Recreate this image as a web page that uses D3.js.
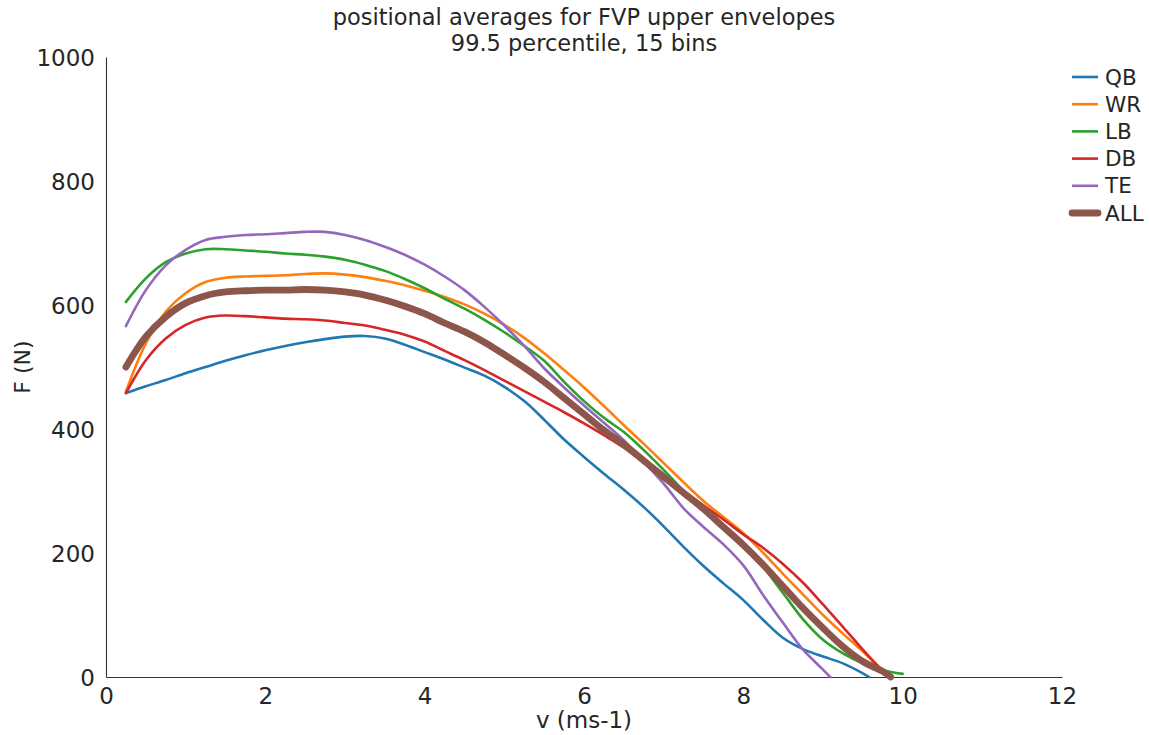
<!DOCTYPE html>
<html>
<head>
<meta charset="utf-8">
<script src="https://cdn.jsdelivr.net/npm/d3@7"></script>
<style>
  html, body { margin: 0; padding: 0; background: #ffffff; }
  svg { display: block; font-family: "DejaVu Sans", sans-serif; }
</style>
</head>
<body>
<svg id="chart" width="1149" height="735"></svg>
<script>
// Force–velocity upper envelopes, averaged per position.
// Each series: [velocity (m/s), force (N)] pairs.
const QB = [[0.25,458],[0.5,469],[0.75,479],[1.0,490],[1.25,500],[1.5,510],[1.75,519],[2.0,527],[2.25,534],[2.5,540],[2.75,545],[3.0,549],[3.25,550],[3.5,546],[3.75,536],[4.0,524],[4.25,512],[4.5,499],[4.75,486],[5.0,468],[5.25,445],[5.5,415],[5.75,383],[6.0,355],[6.25,328],[6.5,302],[6.75,274],[7.0,243],[7.25,210],[7.5,179],[7.75,151],[8.0,124],[8.25,92],[8.5,63],[8.75,45],[9.0,33],[9.25,22],[9.5,6],[9.58,0]];
const WR = [[0.25,460],[0.5,538],[0.75,589],[1.0,619],[1.25,637],[1.5,644],[1.75,646],[2.0,647],[2.25,648],[2.5,650],[2.75,651],[3.0,649],[3.25,645],[3.5,639],[3.75,632],[4.0,623],[4.25,613],[4.5,601],[4.75,586],[5.0,568],[5.25,547],[5.5,522],[5.75,495],[6.0,467],[6.25,437],[6.5,406],[6.75,376],[7.0,345],[7.25,314],[7.5,284],[7.75,258],[8.0,232],[8.25,200],[8.5,166],[8.75,133],[9.0,100],[9.25,70],[9.5,41],[9.75,11],[9.85,0]];
const LB = [[0.25,605],[0.5,643],[0.75,669],[1.0,683],[1.25,690],[1.5,690],[1.75,688],[2.0,686],[2.25,683],[2.5,681],[2.75,678],[3.0,673],[3.25,665],[3.5,655],[3.75,642],[4.0,627],[4.25,610],[4.5,594],[4.75,576],[5.0,556],[5.25,534],[5.5,510],[5.75,476],[6.0,445],[6.25,418],[6.5,395],[6.75,366],[7.0,334],[7.25,300],[7.5,268],[7.75,240],[8.0,210],[8.25,177],[8.5,135],[8.75,93],[9.0,60],[9.25,38],[9.5,22],[9.75,11],[10.0,5]];
const DB = [[0.25,458],[0.5,511],[0.75,546],[1.0,568],[1.25,580],[1.5,583],[1.75,582],[2.0,580],[2.25,578],[2.5,577],[2.75,575],[3.0,571],[3.25,567],[3.5,560],[3.75,552],[4.0,541],[4.25,526],[4.5,511],[4.75,495],[5.0,478],[5.25,461],[5.5,444],[5.75,427],[6.0,409],[6.25,390],[6.5,370],[6.75,346],[7.0,323],[7.25,300],[7.5,277],[7.75,254],[8.0,230],[8.25,208],[8.5,182],[8.75,152],[9.0,117],[9.25,81],[9.5,44],[9.75,9],[9.82,0]];
const TE = [[0.25,566],[0.5,624],[0.75,664],[1.0,689],[1.25,705],[1.5,710],[1.75,713],[2.0,714],[2.25,716],[2.5,718],[2.75,718],[3.0,713],[3.25,705],[3.5,694],[3.75,681],[4.0,665],[4.25,646],[4.5,624],[4.75,597],[5.0,567],[5.25,534],[5.5,498],[5.75,467],[6.0,438],[6.25,410],[6.5,382],[6.75,347],[7.0,312],[7.25,272],[7.5,242],[7.75,214],[8.0,180],[8.25,132],[8.5,87],[8.75,44],[9.0,12],[9.09,0]];
const ALL = [[0.25,500],[0.5,549],[0.75,581],[1.0,603],[1.25,615],[1.5,621],[1.75,623],[2.0,624],[2.25,624],[2.5,625],[2.75,624],[3.0,621],[3.25,616],[3.5,608],[3.75,598],[4.0,586],[4.25,571],[4.5,557],[4.75,540],[5.0,520],[5.25,499],[5.5,476],[5.75,450],[6.0,424],[6.25,398],[6.5,375],[6.75,349],[7.0,323],[7.25,297],[7.5,271],[7.75,242],[8.0,213],[8.25,181],[8.5,146],[8.75,111],[9.0,79],[9.25,49],[9.5,25],[9.75,9],[9.85,0]];

const seriesNames = ["QB", "WR", "LB", "DB", "TE", "ALL"];
const seriesData  = [QB, WR, LB, DB, TE, ALL];
const seriesColors = ["#1f77b4", "#ff7f0e", "#2ca02c", "#d62728", "#9467bd", "#8c564b"];

const xTicks = [0, 2, 4, 6, 8, 10, 12];
const yTicks = [0, 200, 400, 600, 800, 1000];

const titleLines = ["positional averages for FVP upper envelopes", "99.5 percentile, 15 bins"];
const xLabel = "v (ms-1)";
const yLabel = "F (N)";

// Layout
const svg = d3.select("#chart");
const plot = { left: 106, right: 1062, top: 57, bottom: 677 };
const textColor = "#262626";

const x = d3.scaleLinear().domain([0, 12]).range([plot.left, plot.right]);
const y = d3.scaleLinear().domain([0, 1000]).range([plot.bottom, plot.top]);

// Axes: spines only, no tick marks
const xAxis = svg.append("g")
  .attr("transform", `translate(0,${plot.bottom})`)
  .call(d3.axisBottom(x).tickValues(xTicks).tickFormat(d3.format("d")).tickSize(0).tickPadding(11));
const yAxis = svg.append("g")
  .attr("transform", `translate(${plot.left},0)`)
  .call(d3.axisLeft(y).tickValues(yTicks).tickFormat(d3.format("d")).tickSize(0).tickPadding(11));

[xAxis, yAxis].forEach(g => {
  g.select(".domain").attr("stroke", "#333333").attr("stroke-width", 1.1);
  g.selectAll("text")
    .attr("fill", textColor)
    .style("font-family", "'DejaVu Sans', sans-serif")
    .style("font-size", "23px");
});
xAxis.selectAll("text").attr("dy", "0.71em");
yAxis.selectAll("text").attr("dy", "0.35em");

// Series lines
const line = d3.line()
  .x(d => x(d[0]))
  .y(d => y(d[1]))
  .curve(d3.curveCatmullRom.alpha(0.5));

const lines = svg.append("g");
seriesData.forEach((data, i) => {
  const isAll = seriesNames[i] === "ALL";
  lines.append("path")
    .datum(data)
    .attr("fill", "none")
    .attr("stroke", seriesColors[i])
    .attr("stroke-width", isAll ? 6.8 : 2.6)
    .attr("stroke-linecap", "round")
    .attr("stroke-linejoin", "round")
    .attr("d", line);
});

// Title
svg.append("g").selectAll("text")
  .data(titleLines)
  .join("text")
  .attr("x", (plot.left + plot.right) / 2)
  .attr("y", (d, i) => 25 + i * 25.5)
  .attr("text-anchor", "middle")
  .attr("fill", textColor)
  .style("font-size", "22.5px")
  .text(d => d);

// Axis labels
svg.append("text")
  .attr("x", (plot.left + plot.right) / 2)
  .attr("y", 728)
  .attr("text-anchor", "middle")
  .attr("fill", textColor)
  .style("font-size", "23px")
  .text(xLabel);

svg.append("text")
  .attr("transform", `translate(30,${(plot.top + plot.bottom) / 2}) rotate(-90)`)
  .attr("text-anchor", "middle")
  .attr("fill", textColor)
  .style("font-size", "22px")
  .text(yLabel);

// Legend
const legend = svg.append("g").attr("transform", "translate(1072,77)");
const rows = legend.selectAll("g")
  .data(seriesNames)
  .join("g")
  .attr("transform", (d, i) => `translate(0,${i * 27.2})`);
rows.append("line")
  .attr("x1", 0).attr("x2", 26)
  .attr("y1", 0).attr("y2", 0)
  .attr("stroke", (d, i) => seriesColors[i])
  .attr("stroke-width", d => d === "ALL" ? 6.8 : 2.6)
  .attr("stroke-linecap", d => d === "ALL" ? "round" : "butt");
rows.append("text")
  .attr("x", 33)
  .attr("y", 0)
  .attr("dy", "0.35em")
  .attr("fill", textColor)
  .style("font-size", "21.5px")
  .text(d => d);
</script>
</body>
</html>
